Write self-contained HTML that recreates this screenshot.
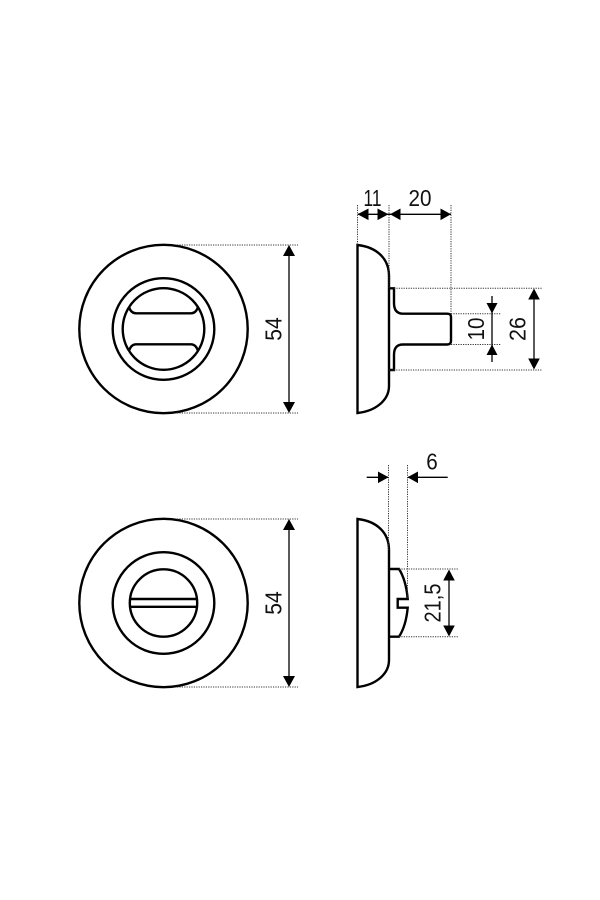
<!DOCTYPE html>
<html>
<head>
<meta charset="utf-8">
<style>
html,body{margin:0;padding:0;background:#fff}
svg{display:block}
text{font-family:"Liberation Sans",sans-serif;font-size:23px;fill:#111;text-anchor:middle}
.o{fill:none;stroke:#000;stroke-width:2.4}
.d{fill:none;stroke:#333;stroke-width:1;stroke-dasharray:1.2 1.2}
.l{fill:none;stroke:#000;stroke-width:1.3}
.a{fill:#000;stroke:none}
</style>
</head>
<body>
<svg width="600" height="900" viewBox="0 0 600 900" xmlns="http://www.w3.org/2000/svg">
<rect width="600" height="900" fill="#fff"/>

<!-- top front -->
<circle class="o" cx="163.5" cy="329" r="84.2"/>
<circle class="o" cx="163.5" cy="329" r="50.8"/>
<circle class="o" cx="163.5" cy="329" r="40.8"/>
<path class="o" d="M129 307Q131 313.3 136 313.3H191Q196 313.3 198 307"/>
<path class="o" d="M129 351Q131 344.3 136 344.3H191Q196 344.3 198 351"/>

<!-- top front dim -->
<path class="d" d="M177 245H298M177 413H298"/>
<path class="l" d="M289 250V408"/>
<path class="a" d="M289 245L295 256H283ZM289 413L283 402H295Z"/>
<text transform="translate(281.5,329) rotate(-90)" textLength="23.5" lengthAdjust="spacingAndGlyphs">54</text>

<!-- top side -->
<path class="o" d="M357.5 245C376 247 389 258 389 276V386C389 400 376 411 357.5 413Z"/>
<path class="o" d="M389 288.3H394V303C394 309 396 313.7 403 313.7H447Q451 313.7 451 317V341Q451 344.5 447 344.5H403C396 344.5 394 349 394 355V370H389"/>

<!-- top side dims -->
<path class="d" d="M357.5 205V245M389 205V288M451 205V314M394 288.3H542M389 370H542M451 313.7H501M451 344.5H501"/>
<path class="l" d="M358 214.3H451"/>
<path class="a" d="M357.5 214.3L368.5 208.5V220.1ZM388.5 214.3L377.5 208.5V220.1ZM390 214.3L400.5 208.5V220.1ZM451 214.3L440.5 208.5V220.1Z"/>
<text x="372.5" y="206" textLength="18" lengthAdjust="spacingAndGlyphs">11</text>
<text x="420" y="206" textLength="23" lengthAdjust="spacingAndGlyphs">20</text>

<path class="l" d="M534 293V365"/>
<path class="a" d="M534 288.5L539.8 299.5H528.2ZM534 369.5L528.2 358.5H539.8Z"/>
<text transform="translate(525.5,329) rotate(-90)" textLength="24" lengthAdjust="spacingAndGlyphs">26</text>

<path class="l" d="M492 296V362"/>
<path class="a" d="M492 313.5L486.5 303H497.5ZM492 344.5L486.5 355H497.5Z"/>
<text transform="translate(484,329) rotate(-90)" textLength="23" lengthAdjust="spacingAndGlyphs">10</text>

<!-- bottom front -->
<circle class="o" cx="163.5" cy="603" r="84.2"/>
<circle class="o" cx="163.5" cy="603" r="50.8"/>
<circle class="o" cx="163.5" cy="603" r="33.7"/>
<path class="o" d="M130.5 599H196.5M130.5 606.8H196.5"/>

<!-- bottom front dim -->
<path class="d" d="M177 519H298M177 687H298"/>
<path class="l" d="M289 524V682"/>
<path class="a" d="M289 519L295 530H283ZM289 687L283 676H295Z"/>
<text transform="translate(281.5,603) rotate(-90)" textLength="23.5" lengthAdjust="spacingAndGlyphs">54</text>

<!-- bottom side -->
<path class="o" d="M357.5 519C376 521 389 532 389 550V660C389 674 376 685 357.5 687Z"/>
<path class="o" d="M389 569H399Q406 580 407.7 599H397.7V607.7H407.7Q406 626 399 636.7H389"/>

<!-- bottom side dims -->
<path class="d" d="M388.5 465V550M407.5 465V598M399 569H458M399 636.7H458"/>
<path class="l" d="M366.7 477.3H388M408 477.3H447.7"/>
<path class="a" d="M388.5 477.3L378 471.5V483.1ZM407.5 477.3L418 471.5V483.1Z"/>
<text x="432" y="469.5" textLength="11.5" lengthAdjust="spacingAndGlyphs">6</text>

<path class="l" d="M449 574V632"/>
<path class="a" d="M449 569.5L454.8 580.5H443.2ZM449 636.5L443.2 625.5H454.8Z"/>
<text transform="translate(440.5,603) rotate(-90)" textLength="39" lengthAdjust="spacingAndGlyphs">21,5</text>
</svg>
</body>
</html>
